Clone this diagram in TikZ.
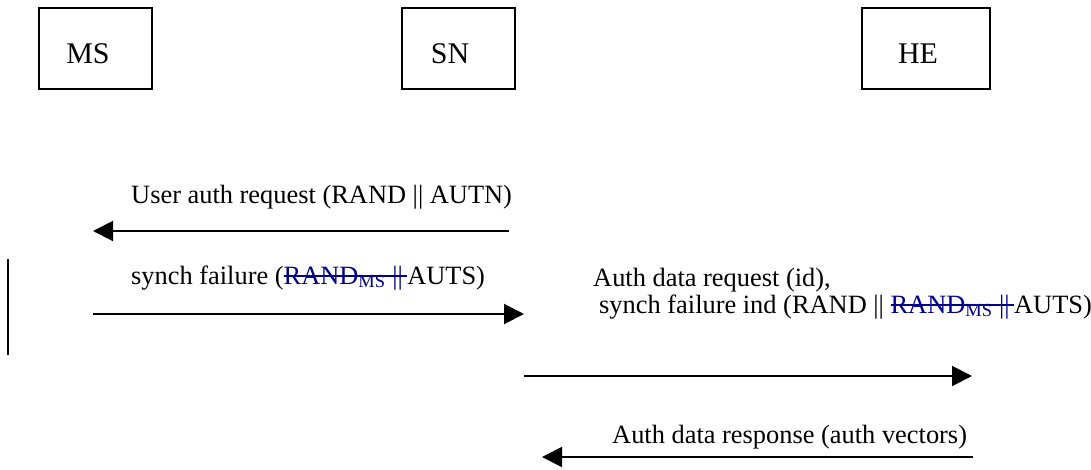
\documentclass[tikz,border=0pt]{standalone}
\usepackage{fontspec}
\setmainfont{Liberation Serif}
\usetikzlibrary{arrows.meta}
\definecolor{strkblue}{RGB}{0,0,140}
% struck-out text in blue
\newcommand{\struck}[1]{{\color{strkblue}\setbox0\hbox{#1}\rlap{\rule[0.26em]{\wd0}{0.08em}}\box0}}

\begin{document}
\begin{tikzpicture}[x=1pt,y=-1pt,
  entity/.style={draw, line width=2pt, minimum width=113pt, minimum height=81pt, inner sep=0pt, anchor=north west},
  lbl/.style={font=\fontsize{30}{36}\selectfont, anchor=base, inner sep=0pt},
  msg/.style={font=\fontsize{26.4}{31}\selectfont, anchor=base west, inner sep=0pt},
  sig/.style={line width=2pt, -{Triangle[length=20pt,width=20pt]}}]
  \useasboundingbox (0,0) rectangle (1091,469);

  %% entities
  \node[entity] (ms) at (38,7) {};
  \node[entity] (sn) at (401,7) {};
  \node[entity, minimum width=128pt] (he) at (861,7) {};
  \node[lbl] (mslbl) at (88,63) {MS};
  \node[lbl] (snlbl) at (450,63) {SN};
  \node[lbl] (helbl) at (918,63) {HE};

  %% bar
  \draw[line width=2pt] (8,259) -- (8,355);

  %% messages
  \coordinate (a1s) at (509,231);
  \coordinate (a1e) at (93,231);
  \coordinate (a2s) at (93,314);
  \coordinate (a2e) at (524,314);
  \coordinate (a3s) at (524,376);
  \coordinate (a3e) at (972,376);
  \coordinate (a4s) at (973,457);
  \coordinate (a4e) at (542,457);
  \draw[sig] (a1s) -- (a1e);
  \draw[sig] (a2s) -- (a2e);
  \draw[sig] (a3s) -- (a3e);
  \draw[sig] (a4s) -- (a4e);

  \node[msg] (m1) at (131,203) {User auth request (RAND || AUTN)};
  \node[msg] (m2) at (131,284) {synch failure (\struck{RAND\textsubscript{MS} ||\,}AUTS)};
  \node[msg] (m3a) at (593,286) {Auth data request (id),};
  \node[msg] (m3b) at (599,313) {synch failure ind (RAND || \struck{RAND\textsubscript{MS} ||\,}AUTS)};
  \node[msg] (m4) at (612,443) {Auth data response (auth vectors)};

\end{tikzpicture}
\end{document}
